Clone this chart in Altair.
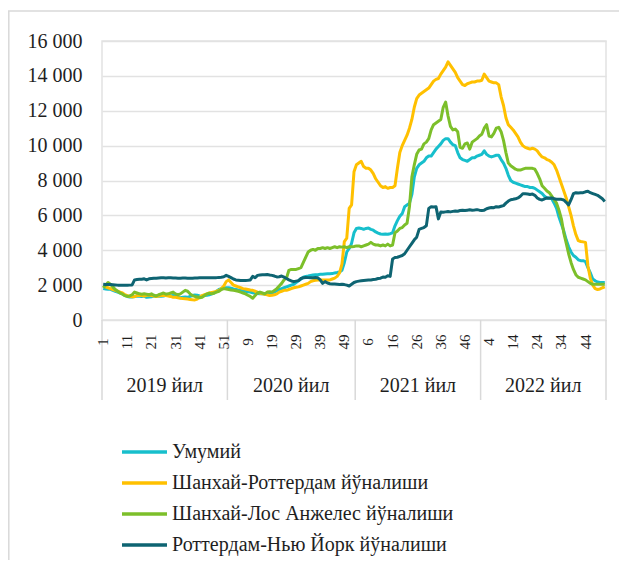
import altair as alt
import pandas as pd

# ---------------- data ----------------
years = ["2019 йил", "2020 йил", "2021 йил", "2022 йил"]
weeks_in_year = [52, 53, 52, 52]

series_names = [
    "Умумий",
    "Шанхай-Роттердам йўналиши",
    "Шанхай-Лос Анжелес йўналиши",
    "Роттердам-Нью Йорк йўналиши",
]
series_colors = ["#17BFCC", "#FFC000", "#7CBF2A", "#0E6472"]

# week numbers shown on the category axis, per year
tick_weeks = [
    [1, 11, 21, 31, 41, 51],
    [9, 19, 29, 39, 49],
    [6, 16, 26, 36, 46],
    [4, 14, 24, 34, 44],
]
y_ticks = [0, 2000, 4000, 6000, 8000, 10000, 12000, 14000, 16000]

umumiy_2019 = [1800, 1780, 1760, 1760, 1700, 1650, 1600, 1550, 1500, 1400,
               1350, 1320, 1320, 1350, 1380, 1360, 1350, 1370, 1300, 1320,
               1330, 1380, 1350, 1370, 1360, 1380, 1420, 1400, 1380, 1400,
               1380, 1300, 1280, 1300, 1320, 1300, 1350, 1400, 1430, 1420,
               1380, 1360, 1400, 1420, 1450, 1500, 1550, 1650, 1750, 1800,
               1830, 1850]
umumiy_2020 = [1850, 1820, 1780, 1750, 1720, 1700, 1670, 1650, 1620, 1600,
               1560, 1540, 1520, 1500, 1500, 1490, 1510, 1520, 1540, 1600,
               1680, 1750, 1800, 1850, 1900, 1950, 2000, 2050, 2150, 2250,
               2350, 2450, 2500, 2520, 2550, 2580, 2600, 2600, 2620, 2620,
               2640, 2650, 2650, 2660, 2700, 2720, 2750, 2850, 3300, 3900,
               4100, 4400, 5000]
umumiy_2021 = [5250, 5280, 5250, 5200, 5250, 5270, 5200, 5150, 5050, 4980,
               4930, 4920, 4930, 4920, 4950, 5000, 5400, 5700, 5950, 6100,
               6500, 6600, 6700, 7200, 8200, 8700, 8900, 9000, 9100, 9300,
               9400, 9400, 9600, 9800, 9950, 10100, 10300, 10400, 10400, 10200,
               10050, 10000, 9600, 9300, 9200, 9150, 9100, 9200, 9300, 9300,
               9400, 9450]
umumiy_2022 = [9500, 9700, 9500, 9400, 9350, 9400, 9450, 9450, 9200, 9000,
               8700, 8300, 8000, 7900, 7850, 7800, 7750, 7700, 7650, 7650,
               7600, 7600, 7550, 7450, 7350, 7250, 7100, 7000, 7000, 6950,
               6700, 6400, 5900, 5500, 5100, 4600, 4200, 3900, 3700, 3600,
               3450, 3400, 3400, 3350, 3000, 2700, 2350, 2250, 2180, 2150,
               2150, 2150]

rotterdam_2019 = [1950, 1900, 1850, 1800, 1750, 1700, 1650, 1600, 1550, 1450,
                  1400, 1350, 1330, 1340, 1400, 1420, 1400, 1380, 1420, 1430,
                  1400, 1380, 1350, 1380, 1400, 1420, 1400, 1380, 1350, 1300,
                  1300, 1280, 1250, 1230, 1220, 1200, 1180, 1160, 1150, 1200,
                  1300, 1400, 1450, 1500, 1550, 1580, 1600, 1650, 1700, 1800,
                  1950, 2200]
rotterdam_2020 = [2300, 2150, 2000, 1950, 1900, 1850, 1800, 1780, 1750, 1720,
                  1700, 1650, 1600, 1550, 1500, 1480, 1450, 1400, 1420, 1450,
                  1500, 1600, 1650, 1700, 1700, 1750, 1800, 1850, 1880, 1900,
                  1950, 2000, 2050, 2100, 2200, 2250, 2280, 2300, 2300, 2300,
                  2300, 2300, 2300, 2350, 2400, 2500, 2700, 3200, 4500, 4700,
                  6400, 6600, 8500]
rotterdam_2021 = [8900, 9000, 9100, 8800, 8700, 8700, 8600, 8400, 8100, 7900,
                  7700, 7600, 7650, 7550, 7600, 7600, 7700, 8700, 9600, 10000,
                  10300, 10600, 11000, 11500, 12200, 12700, 12900, 13000, 13100, 13200,
                  13300, 13500, 13700, 13800, 13850, 14100, 14300, 14500, 14800, 14600,
                  14400, 14200, 13900, 13700, 13500, 13450, 13550, 13600, 13650, 13650,
                  13700, 13700]
rotterdam_2022 = [13750, 14100, 13900, 13700, 13650, 13600, 13600, 13500, 12800, 12300,
                  11600, 11200, 11050, 10900, 10700, 10500, 10200, 10000, 9900, 9850,
                  9800, 9850, 9800, 9700, 9500, 9350, 9300, 9200, 9150, 9050,
                  8900, 8600, 8200, 7800, 7400, 7000, 6500, 6000, 5400, 4900,
                  4550, 4500, 4480, 4450, 3100, 2400, 2000, 1800, 1750, 1780,
                  1850, 1900]

losangeles_2019 = [1850, 2000, 2150, 2050, 1900, 1750, 1650, 1550, 1480, 1400,
                   1350, 1380, 1450, 1600, 1550, 1500, 1480, 1500, 1480, 1450,
                   1500, 1420, 1380, 1450, 1500, 1550, 1480, 1500, 1550, 1600,
                   1500, 1450, 1500, 1600, 1700, 1650, 1500, 1400, 1350, 1320,
                   1280, 1300, 1400, 1500, 1530, 1500, 1550, 1600, 1650, 1750,
                   1800, 1780]
losangeles_2020 = [1750, 1720, 1700, 1680, 1650, 1600, 1550, 1500, 1420, 1350,
                   1250, 1400, 1550, 1600, 1550, 1500, 1600, 1620, 1600, 1700,
                   1800, 1950, 2100, 2300, 2400, 2850, 2900, 2900, 2900, 2950,
                   3000, 3300, 3600, 3900, 4000, 4050, 4000, 4100, 4100, 4150,
                   4100, 4150, 4100, 4150, 4200, 4150, 4200, 4180, 4200, 4150,
                   4200, 4200, 4220]
losangeles_2021 = [4250, 4250, 4200, 4250, 4300, 4350, 4450, 4350, 4300, 4300,
                   4250, 4300, 4250, 4350, 4250, 4300, 5000, 5100, 5250, 5300,
                   5450, 5550, 6500, 8200, 8900, 9500, 9750, 9800, 10100, 10200,
                   10400, 10900, 11200, 11300, 11400, 11500, 12200, 12500, 11700, 11100,
                   10900, 10950, 10800, 9900, 9850, 10100, 10150, 9800, 10200, 10300,
                   10400, 10550]
losangeles_2022 = [10650, 11000, 11200, 10550, 10500, 10700, 11000, 11050, 10800, 10300,
                   9600, 9000, 8850, 8750, 8650, 8600, 8600, 8650, 8700, 8700,
                   8700, 8700, 8650, 8400, 8100, 7700, 7550, 7400, 7300, 7100,
                   6900, 6700, 6300, 5800, 5000, 4400, 3800, 3300, 2900, 2600,
                   2450, 2400, 2350, 2300, 2200, 2100, 2050, 2050, 2050, 2050,
                   2050, 2050]

newyork_2019 = [2050, 2040, 2030, 2030, 2020, 2010, 2000, 2000, 1990, 1990,
                1990, 2000, 2010, 2300, 2320, 2330, 2340, 2360, 2300, 2360,
                2380, 2400, 2400, 2410, 2420, 2420, 2410, 2420, 2420, 2410,
                2410, 2400, 2400, 2410, 2410, 2400, 2400, 2400, 2410, 2410,
                2420, 2420, 2430, 2420, 2420, 2420, 2430, 2430, 2440, 2450,
                2480, 2560]
newyork_2020 = [2500, 2430, 2350, 2300, 2280, 2260, 2260, 2270, 2280, 2300,
                2500, 2420, 2560, 2580, 2600, 2600, 2610, 2580, 2560, 2520,
                2470, 2480, 2520, 2460, 2380, 2300, 2240, 2200, 2230, 2260,
                2380, 2420, 2440, 2430, 2420, 2420, 2440, 2420, 2300, 2100,
                2200, 2120, 2080, 2060, 2060, 2050, 2040, 2050, 2030, 2000,
                1950, 2050, 2150]
newyork_2021 = [2200, 2230, 2250, 2270, 2280, 2290, 2300, 2320, 2340, 2380,
                2400, 2460, 2450, 2540, 2500, 3500, 3580, 3600, 3650, 3700,
                3800, 4000, 4200, 4400, 4600, 4750, 5200, 5250, 5300, 5400,
                6400, 6500, 6480, 6500, 5800, 6200, 6180, 6200, 6220, 6200,
                6230, 6250, 6240, 6280, 6300, 6280, 6300, 6320, 6300, 6310,
                6330, 6300]
newyork_2022 = [6280, 6300, 6380, 6420, 6450, 6440, 6500, 6480, 6520, 6560,
                6700, 6820, 6900, 6920, 6950, 7000, 7100, 7240, 7240, 7230,
                7200, 7220, 7150, 7000, 6920, 6880, 6950, 7000, 6980, 7000,
                6950, 6930, 6930, 6920, 6880, 6750, 6600, 6900, 7250, 7300,
                7280, 7300, 7300, 7350, 7380, 7300, 7250, 7200, 7150, 7050,
                6950, 6800]

series_parts = [
    [umumiy_2019, umumiy_2020, umumiy_2021, umumiy_2022],
    [rotterdam_2019, rotterdam_2020, rotterdam_2021, rotterdam_2022],
    [losangeles_2019, losangeles_2020, losangeles_2021, losangeles_2022],
    [newyork_2019, newyork_2020, newyork_2021, newyork_2022],
]

# ---------------- tables ----------------
offsets = []
acc = 0
for n in weeks_in_year:
    offsets.append(acc)
    acc += n
total = acc

rows = []
for name, parts in zip(series_names, series_parts):
    for yr, off, n, part in zip(years, offsets, weeks_in_year, parts):
        assert len(part) == n, (name, yr, len(part))
        for w, v in enumerate(part, start=1):
            rows.append({"series": name, "year": yr, "week": w,
                         "idx": off + w - 1, "value": v})
df = pd.DataFrame(rows)

tick_df = pd.DataFrame([
    {"idx": off + w - 1, "label": str(w)}
    for off, wl in zip(offsets, tick_weeks) for w in wl
])
year_df = pd.DataFrame([
    {"idx": off + (n - 1) / 2, "label": yr}
    for yr, off, n in zip(years, offsets, weeks_in_year)
])
bound_df = pd.DataFrame({"idx": [o - 0.5 for o in offsets] + [total - 0.5]})
one = pd.DataFrame({"a": [0]})

# ---------------- chart ----------------
W, H = 504, 279
FONT = "Liberation Serif"
TXT = "#1E1E1E"
GRID = "#E2E2E2"

xscale = alt.Scale(domain=[-0.5, total - 0.5], nice=False, zero=False)
x_enc = alt.X("idx:Q", scale=xscale, axis=None)

lines = alt.Chart(df).mark_line(strokeWidth=3, strokeJoin="round").encode(
    x=x_enc,
    y=alt.Y("value:Q",
            scale=alt.Scale(domain=[0, 16000], nice=False),
            axis=alt.Axis(values=y_ticks, title=None, domain=False, ticks=False,
                          tickSize=0, labelPadding=20, grid=True,
                          gridColor=GRID, gridWidth=1.5,
                          labelFont=FONT, labelFontSize=20, labelColor=TXT,
                          labelExpr="replace(format(datum.value, ','), ',', ' ')")),
    color=alt.Color("series:N",
                    scale=alt.Scale(domain=series_names, range=series_colors),
                    legend=alt.Legend(orient="none", legendX=29.5, legendY=398,
                                      title=None, direction="vertical",
                                      symbolType="M-2,0H2", symbolSize=506,
                                      symbolStrokeWidth=3.5, labelOffset=14.5,
                                      rowPadding=8, labelFont=FONT,
                                      labelFontSize=20, labelColor=TXT,
                                      labelLimit=0)),
    detail="series:N",
)

week_labels = alt.Chart(tick_df).mark_text(
    angle=270, align="center", baseline="middle",
    font=FONT, fontSize=15, color=TXT,
).encode(x=x_enc, y=alt.value(H + 22), text="label:N")

year_labels = alt.Chart(year_df).mark_text(
    align="center", baseline="middle", font=FONT, fontSize=20, color=TXT,
).encode(x=x_enc, y=alt.value(H + 66), text="label:N")

dividers = alt.Chart(bound_df).mark_rule(color="#D9D9D9", strokeWidth=1.5).encode(
    x=x_enc, y=alt.value(H), y2=alt.value(H + 80)
)

border_top = alt.Chart(one).mark_rule(color="#D9D9D9", strokeWidth=1.5).encode(
    x=alt.value(-94), x2=alt.value(W + 13), y=alt.value(-30)
)
border_left = alt.Chart(one).mark_rule(color="#D9D9D9", strokeWidth=1.5).encode(
    x=alt.value(-93.2), y=alt.value(-30), y2=alt.value(H + 240)
)

chart = alt.layer(
    border_top, border_left, dividers, week_labels, year_labels, lines
).properties(
    width=W, height=H,
    autosize=alt.AutoSizeParams(type="none"),
    padding={"left": 94, "top": 33, "right": 13, "bottom": 240},
    background="white",
).configure_view(
    stroke=GRID, strokeWidth=1.5
).configure_legend(
    labelFont=FONT, labelFontSize=20, labelColor=TXT
).configure_axis(
    labelFont=FONT, labelFontSize=20, labelColor=TXT
).configure_text(
    font=FONT
)

chart.save("out.html", embed_options={"renderer": "svg", "actions": False})
